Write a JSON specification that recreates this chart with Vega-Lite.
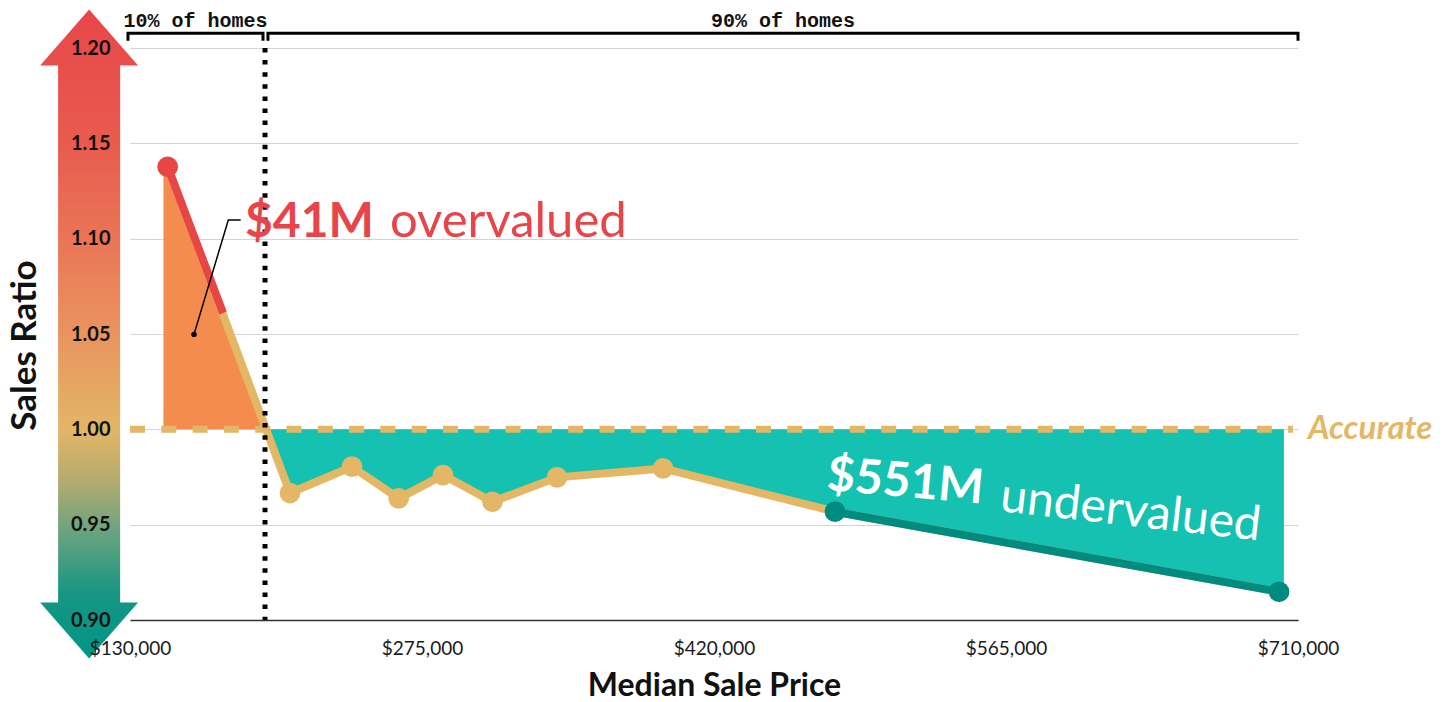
{
  "$schema": "https://vega.github.io/schema/vega-lite/v6.json",
  "width": 1168,
  "height": 572,
  "autosize": {"type": "none"},
  "padding": {"left": 130, "top": 48, "right": 155, "bottom": 82},
  "background": "white",
  "data": {"values": [{}]},
  "config": {
    "view": {"stroke": null},
    "font": "Lato"
  },
  "datasets": {
    "sales": [
      {"price": 148700, "ratio": 1.1377},
      {"price": 209450, "ratio": 0.9666},
      {"price": 240240, "ratio": 0.9804},
      {"price": 263430, "ratio": 0.9638},
      {"price": 285440, "ratio": 0.976},
      {"price": 309970, "ratio": 0.962},
      {"price": 342050, "ratio": 0.9748},
      {"price": 394690, "ratio": 0.9795},
      {"price": 480100, "ratio": 0.9568},
      {"price": 700590, "ratio": 0.9148}
    ],
    "over": [
      {"price": 146600, "ratio": 1.1377},
      {"price": 197600, "ratio": 1.0}
    ],
    "under": [
      {"price": 197600, "ratio": 1.0},
      {"price": 209450, "ratio": 0.9666},
      {"price": 240240, "ratio": 0.9804},
      {"price": 263430, "ratio": 0.9638},
      {"price": 285440, "ratio": 0.976},
      {"price": 309970, "ratio": 0.962},
      {"price": 342050, "ratio": 0.9748},
      {"price": 394690, "ratio": 0.9795},
      {"price": 480100, "ratio": 0.9568},
      {"price": 703000, "ratio": 0.9148}
    ],
    "redSegment": [
      {"price": 148700, "ratio": 1.1377},
      {"price": 176200, "ratio": 1.061}
    ],
    "tealSegment": [
      {"price": 480100, "ratio": 0.9568},
      {"price": 700590, "ratio": 0.9148}
    ],
    "brackets": [
      {"group": "10% of homes", "o": 0, "price": 129000, "ratio": 1.2038},
      {"group": "10% of homes", "o": 1, "price": 129000, "ratio": 1.2077},
      {"group": "10% of homes", "o": 2, "price": 196050, "ratio": 1.2077},
      {"group": "10% of homes", "o": 3, "price": 196050, "ratio": 1.2038},
      {"group": "90% of homes", "o": 0, "price": 198500, "ratio": 1.2038},
      {"group": "90% of homes", "o": 1, "price": 198500, "ratio": 1.2077},
      {"group": "90% of homes", "o": 2, "price": 710000, "ratio": 1.2077},
      {"group": "90% of homes", "o": 3, "price": 710000, "ratio": 1.2038}
    ],
    "bracketLabels": [
      {"group": "10% of homes", "price": 162530, "ratio": 1.2108},
      {"group": "90% of homes", "price": 454300, "ratio": 1.2108}
    ],
    "leader": [
      {"o": 0, "price": 161780, "ratio": 1.0498},
      {"o": 1, "price": 178820, "ratio": 1.1098},
      {"o": 2, "price": 184970, "ratio": 1.1098}
    ]
  },
  "resolve": {"axis": {"y": "independent"}},
  "layer": [
    {
      "mark": {
        "type": "point",
        "shape": "M0,-6.62L1,-5.48L0.633,-5.48L0.633,5.48L1,5.48L0,6.62L-1,5.48L-0.633,5.48L-0.633,-5.48L-1,-5.48Z",
        "size": 9604,
        "filled": true,
        "opacity": 1,
        "strokeWidth": 0,
        "clip": false,
        "fill": {
          "gradient": "linear",
          "x1": 0, "y1": 0, "x2": 0, "y2": 1,
          "stops": [
            {"offset": 0, "color": "#E8474A"},
            {"offset": 0.2, "color": "#E85A4E"},
            {"offset": 0.35, "color": "#EA7456"},
            {"offset": 0.5, "color": "#E9945F"},
            {"offset": 0.647, "color": "#E2B666"},
            {"offset": 0.72, "color": "#B9AC6E"},
            {"offset": 0.8, "color": "#6FA47F"},
            {"offset": 0.9, "color": "#169683"},
            {"offset": 1, "color": "#009588"}
          ]
        }
      },
      "encoding": {
        "x": {"datum": 109700, "type": "quantitative", "scale": {"domain": [130000, 710000], "nice": false, "zero": false}},
        "y": {"datum": 1.05, "type": "quantitative", "scale": {"domain": [0.9, 1.2], "nice": false, "zero": false}, "axis": null}
      }
    },
    {
      "data": {"name": "over"},
      "mark": {"type": "area", "color": "#F48C4F", "opacity": 1},
      "encoding": {
        "x": {
          "field": "price", "type": "quantitative", "title": "Median Sale Price",
          "axis": {
            "values": [130000, 275000, 420000, 565000, 710000],
            "format": "$,.0f",
            "labelFont": "Lato",
            "labelFontSize": 19,
            "labelColor": "#1a1a1a",
            "labelPadding": 19,
            "labelFlush": false,
            "ticks": false,
            "grid": false,
            "domainColor": "#333333",
            "domainWidth": 1.5,
            "titleFont": "Lato",
            "titleFontSize": 32,
            "titleFontWeight": "bold",
            "titleColor": "#111111",
            "titlePadding": 12,
            "zindex": 1
          }
        },
        "y": {
          "field": "ratio", "type": "quantitative",
          "axis": {
            "orient": "left", "grid": true, "gridColor": "#d4d4d4", "gridWidth": 1,
            "labels": false, "ticks": false, "domain": false, "title": null,
            "values": [0.9, 0.95, 1.0, 1.05, 1.1, 1.15, 1.2], "zindex": 0
          }
        },
        "y2": {"datum": 1.0}
      }
    },
    {
      "data": {"name": "under"},
      "mark": {"type": "area", "color": "#15C1B0", "opacity": 1},
      "encoding": {
        "x": {"field": "price", "type": "quantitative"},
        "y": {"field": "ratio", "type": "quantitative", "axis": null},
        "y2": {"datum": 1.0}
      }
    },
    {
      "mark": {"type": "rule", "color": "#E3B766", "strokeWidth": 7, "strokeDash": [15, 16.3]},
      "encoding": {
        "x": {"datum": 130000, "type": "quantitative"},
        "x2": {"datum": 707500},
        "y": {"datum": 1.0, "type": "quantitative", "axis": null}
      }
    },
    {
      "data": {"name": "sales"},
      "mark": {"type": "line", "color": "#E3B766", "strokeWidth": 8, "strokeJoin": "round"},
      "encoding": {
        "x": {"field": "price", "type": "quantitative"},
        "y": {"field": "ratio", "type": "quantitative", "axis": null}
      }
    },
    {
      "data": {"name": "redSegment"},
      "mark": {"type": "line", "color": "#E84545", "strokeWidth": 8, "strokeCap": "butt"},
      "encoding": {
        "x": {"field": "price", "type": "quantitative"},
        "y": {"field": "ratio", "type": "quantitative", "axis": null}
      }
    },
    {
      "data": {"name": "tealSegment"},
      "mark": {"type": "line", "color": "#008B80", "strokeWidth": 8},
      "encoding": {
        "x": {"field": "price", "type": "quantitative"},
        "y": {"field": "ratio", "type": "quantitative", "axis": null}
      }
    },
    {
      "data": {"name": "sales"},
      "mark": {"type": "point", "filled": true, "opacity": 1, "size": 430, "strokeWidth": 0},
      "encoding": {
        "x": {"field": "price", "type": "quantitative"},
        "y": {
          "field": "ratio", "type": "quantitative",
          "axis": {
            "orient": "left", "grid": false, "zindex": 1,
            "values": [0.9, 0.95, 1.0, 1.05, 1.1, 1.15, 1.2], "format": ".2f",
            "ticks": false, "domain": false,
            "labelFont": "Lato", "labelFontSize": 20, "labelFontWeight": "bold",
            "labelColor": "#111111", "labelPadding": 20,
            "title": "Sales Ratio", "titleFont": "Lato", "titleFontSize": 35,
            "titleFontWeight": "bold", "titleColor": "#111111", "titlePadding": 28,
            "titleY": 297
          }
        },
        "color": {
          "condition": [
            {"test": "datum.ratio > 1.06", "value": "#E84545"},
            {"test": "datum.ratio < 0.96", "value": "#008B80"}
          ],
          "value": "#E3B766"
        }
      }
    },
    {
      "mark": {"type": "rule", "color": "#000000", "strokeWidth": 5, "strokeDash": [4.5, 7.6], "clip": false},
      "encoding": {
        "x": {"datum": 197040, "type": "quantitative"},
        "y": {"datum": 1.2, "type": "quantitative", "axis": null},
        "y2": {"datum": 0.9}
      }
    },
    {
      "data": {"name": "brackets"},
      "mark": {"type": "line", "color": "#000000", "strokeWidth": 3, "clip": false, "strokeJoin": "miter"},
      "encoding": {
        "x": {"field": "price", "type": "quantitative"},
        "y": {"field": "ratio", "type": "quantitative", "axis": null},
        "detail": {"field": "group"},
        "order": {"field": "o", "type": "quantitative"}
      }
    },
    {
      "data": {"name": "bracketLabels"},
      "mark": {"type": "text", "font": "Liberation Mono", "fontSize": 20, "fontWeight": "bold", "color": "#111111", "align": "center", "baseline": "alphabetic", "clip": false},
      "encoding": {
        "x": {"field": "price", "type": "quantitative"},
        "y": {"field": "ratio", "type": "quantitative", "axis": null},
        "text": {"field": "group"}
      }
    },
    {
      "data": {"name": "leader"},
      "mark": {"type": "line", "color": "#000000", "strokeWidth": 1.5},
      "encoding": {
        "x": {"field": "price", "type": "quantitative"},
        "y": {"field": "ratio", "type": "quantitative", "axis": null},
        "order": {"field": "o", "type": "quantitative"}
      }
    },
    {
      "mark": {"type": "point", "filled": true, "opacity": 1, "color": "#000000", "size": 30, "strokeWidth": 0},
      "encoding": {
        "x": {"datum": 161780, "type": "quantitative"},
        "y": {"datum": 1.0498, "type": "quantitative", "axis": null}
      }
    },
    {
      "mark": {"type": "text", "text": "$41M", "font": "Lato", "fontSize": 48, "fontWeight": "bold", "color": "#E8454A", "align": "left", "baseline": "alphabetic"},
      "encoding": {
        "x": {"datum": 187110, "type": "quantitative"},
        "y": {"datum": 1.1009, "type": "quantitative", "axis": null}
      }
    },
    {
      "mark": {"type": "text", "text": "overvalued", "font": "Lato", "fontSize": 49, "fontWeight": "normal", "color": "#E8454A", "align": "left", "baseline": "alphabetic"},
      "encoding": {
        "x": {"datum": 259120, "type": "quantitative"},
        "y": {"datum": 1.1009, "type": "quantitative", "axis": null}
      }
    },
    {
      "mark": {"type": "text", "text": "$551M", "font": "Lato", "fontSize": 48, "fontWeight": "bold", "color": "#ffffff", "align": "left", "baseline": "alphabetic", "angle": 5},
      "encoding": {
        "x": {"datum": 475630, "type": "quantitative"},
        "y": {"datum": 0.9682, "type": "quantitative", "axis": null}
      }
    },
    {
      "mark": {"type": "text", "text": "undervalued", "font": "Lato", "fontSize": 48, "fontWeight": "normal", "color": "#ffffff", "align": "left", "baseline": "alphabetic", "angle": 6.5},
      "encoding": {
        "x": {"datum": 561550, "type": "quantitative"},
        "y": {"datum": 0.9572, "type": "quantitative", "axis": null}
      }
    },
    {
      "mark": {"type": "text", "text": "Accurate", "font": "Lato", "fontSize": 33, "fontWeight": "bold", "fontStyle": "italic", "color": "#E3B766", "align": "left", "baseline": "middle", "dx": 10, "clip": false},
      "encoding": {
        "x": {"datum": 710000, "type": "quantitative"},
        "y": {"datum": 1.0, "type": "quantitative", "axis": null}
      }
    }
  ]
}
